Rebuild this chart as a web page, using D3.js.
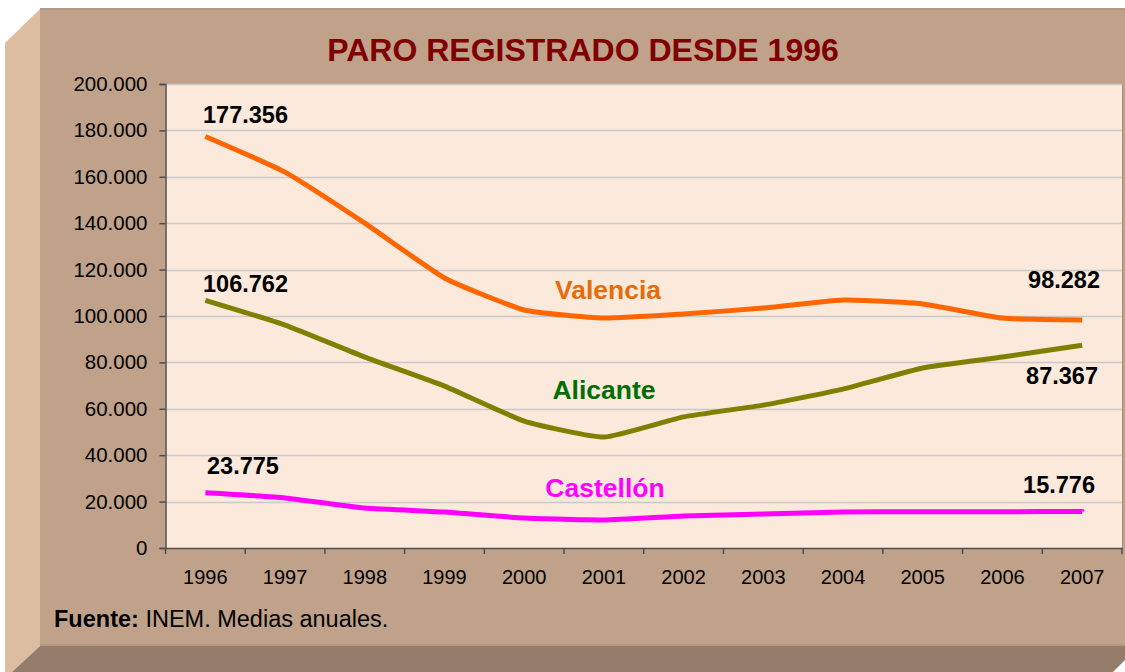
<!DOCTYPE html>
<html><head><meta charset="utf-8">
<script src="https://cdn.jsdelivr.net/npm/d3@7"></script>
<style>
html,body{margin:0;padding:0;background:#fff;}
svg{display:block;font-family:"Liberation Sans",Arial,sans-serif;}
</style></head>
<body>
<svg id="chart" width="1125" height="672"></svg>
<script>
const years = ["1996","1997","1998","1999","2000","2001","2002","2003","2004","2005","2006","2007"];
const valencia = [177356,162000,140000,116400,102600,99100,100900,103400,106900,105200,99100,98282];
const alicante = [106762,96100,82300,69800,54700,47800,56500,61600,68500,77600,82300,87367];
const castellon = [23775,21600,17200,15500,12900,12100,13800,14700,15500,15600,15600,15776];
const seriesNames = ["Valencia","Alicante","Castellón"];
const yTicks = [0,20000,40000,60000,80000,100000,120000,140000,160000,180000,200000];
const title = "PARO REGISTRADO DESDE 1996";

const svg = d3.select("#chart");
const W = 1125, H = 672;
const loc = d3.formatLocale({decimal:",",thousands:".",grouping:[3],currency:["",""]});
const fmt = loc.format(",d");

// frame
svg.append("rect").attr("x",0).attr("y",0).attr("width",W).attr("height",H).attr("fill","#fff");
svg.append("polygon").attr("points","5,43 40,9 40,646 12,672 5,672").attr("fill","#DDBD9F");
svg.append("polygon").attr("points","40,646 1125,646 1125,660 1113,672 12,672").attr("fill","#947C6B");
svg.append("rect").attr("x",40).attr("y",9).attr("width",W-40).attr("height",637).attr("fill","#C0A28A");
svg.append("rect").attr("x",40).attr("y",8).attr("width",W-40).attr("height",2).attr("fill","#B39783");
svg.append("rect").attr("x",40).attr("y",644).attr("width",W-40).attr("height",2).attr("fill","#B39783");

const x0 = 165.5, x1 = 1122, yTop = 84, yBot = 548;
const x = d3.scaleBand().domain(years).range([x0, x1]);
const y = d3.scaleLinear().domain([0,200000]).range([yBot, yTop]);
const cx = d => x(d) + x.bandwidth()/2;

// plot area
svg.append("rect").attr("x",x0).attr("y",yTop).attr("width",x1-x0).attr("height",yBot-yTop).attr("fill","#FBE9DB");
svg.append("line").attr("x1",x1+0.5).attr("x2",x1+0.5).attr("y1",yTop).attr("y2",yBot).attr("stroke","#A88E7A").attr("stroke-width",1);

// gridlines
svg.append("g").selectAll("line").data(yTicks.filter(t=>t>0)).join("line")
  .attr("x1",x0).attr("x2",x1).attr("y1",d=>Math.round(y(d))+0.5).attr("y2",d=>Math.round(y(d))+0.5)
  .attr("stroke","#C9C9C9").attr("stroke-width",1.3);

// axes
const yAxis = d3.axisLeft(y).tickValues(yTicks).tickFormat(fmt).tickSize(6).tickPadding(12);
const gy = svg.append("g").attr("transform",`translate(${x0},0)`).call(yAxis);
gy.selectAll("text").attr("font-size",20.5).attr("fill","#000").attr("font-family","Liberation Sans, Arial, sans-serif");
gy.selectAll("line, path").attr("stroke","#4D4D4D").attr("stroke-width",1.5);

const xAxis = d3.axisBottom(x).tickSize(0).tickPadding(22);
const gx = svg.append("g").attr("transform",`translate(0,${yBot})`).call(xAxis);
gx.select("path").attr("stroke","#4D4D4D").attr("stroke-width",1.5);
gx.selectAll("text").attr("font-size",20).attr("fill","#000").attr("font-family","Liberation Sans, Arial, sans-serif");
const bounds = years.map(d=>x(d)).concat([x1]);
svg.append("g").selectAll("line").data(bounds).join("line")
  .attr("x1",d=>d).attr("x2",d=>d).attr("y1",yBot).attr("y2",yBot+6)
  .attr("stroke","#4D4D4D").attr("stroke-width",1.5);

// lines
const line = d3.line().x((d,i)=>cx(years[i])).y(d=>y(d)).curve(d3.curveCardinal.tension(0.55));
const series = [
  {name:seriesNames[0], vals:valencia, color:"#FF6600", lab:"#E46C0A"},
  {name:seriesNames[1], vals:alicante, color:"#808000", lab:"#006E00"},
  {name:seriesNames[2], vals:castellon, color:"#FF00FF", lab:"#FF00FF"}
];
series.forEach(s=>{
  svg.append("path").datum(s.vals).attr("d",line).attr("fill","none")
    .attr("stroke",s.color).attr("stroke-width",5).attr("stroke-linejoin","round");
});

// title
svg.append("text").attr("x",583).attr("y",61).attr("text-anchor","middle")
  .attr("font-size",32).attr("font-weight","bold").attr("fill","#800000").text(title);

// series labels
const seriesLabelPos = [[608,299],[604,399],[605,497]];
series.forEach((s,i)=>{
  svg.append("text").attr("x",seriesLabelPos[i][0]).attr("y",seriesLabelPos[i][1]).attr("text-anchor","middle")
    .attr("font-size",26.5).attr("font-weight","bold").attr("fill",s.lab).text(s.name);
});

// data labels
const firstLab = [[203,123],[203,292],[207,474]];
const lastLab = [[1100,288],[1098,384],[1095,493]];
series.forEach((s,i)=>{
  svg.append("text").attr("x",firstLab[i][0]).attr("y",firstLab[i][1])
    .attr("font-size",23.5).attr("font-weight","bold").attr("fill","#000").text(fmt(s.vals[0]));
  svg.append("text").attr("x",lastLab[i][0]).attr("y",lastLab[i][1]).attr("text-anchor","end")
    .attr("font-size",23.5).attr("font-weight","bold").attr("fill","#000").text(fmt(s.vals[s.vals.length-1]));
});

// source
const src = svg.append("text").attr("x",54).attr("y",627).attr("font-size",23.5).attr("fill","#000");
src.append("tspan").attr("font-weight","bold").text("Fuente:");
src.append("tspan").text(" INEM. Medias anuales.");
</script>
</body></html>
